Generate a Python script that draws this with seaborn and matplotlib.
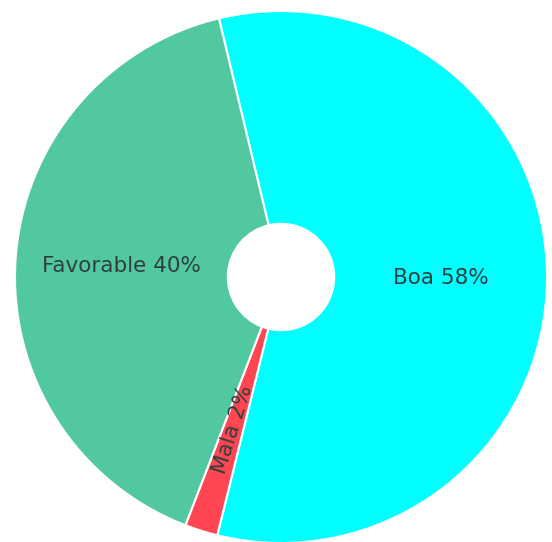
import matplotlib
matplotlib.use("Agg")
import matplotlib.pyplot as plt
import seaborn as sns
import numpy as np

categories = ["Boa", "Mala", "Favorable"]
values = [57.6, 2.0, 40.4]
colors = ["#00FFFF", "#FF4652", "#52C8A0"]

sns.set_theme(style="white")
plt.rcParams['font.family'] = ['DejaVu Sans']

W, H = 552, 542
fig = plt.figure(figsize=(W / 100, H / 100), dpi=100)
fig.patch.set_facecolor("white")

cx, cy, R = 281, 277, 266
ax = fig.add_axes([(cx - R) / W, (H - cy - R) / H, 2 * R / W, 2 * R / H])
ax.set_facecolor("white")

pal = sns.color_palette(colors)
wedges, _ = ax.pie(values, colors=pal, startangle=103.5, counterclock=False,
                   radius=1.0, wedgeprops=dict(width=0.8, edgecolor="white", linewidth=1.5))

total = sum(values)
theta = 103.5
for cat, v in zip(categories, values):
    span = 360 * v / total
    mid = theta - span / 2
    theta -= span
    r = 0.6
    x = r * np.cos(np.deg2rad(mid))
    y = r * np.sin(np.deg2rad(mid))
    rot = 0
    if v / total < 0.05:
        rot = mid % 180
        if rot > 90:
            rot -= 180
    ax.text(x, y, f"{cat} {v:.0f}%", ha="center", va="center", rotation=rot,
            rotation_mode="anchor", fontsize=15.5, color="#2f3f40")

ax.set_xlim(-1, 1)
ax.set_ylim(-1, 1)
ax.set_aspect("equal")
ax.axis("off")

fig.savefig("out.png", dpi=100, facecolor="white")
